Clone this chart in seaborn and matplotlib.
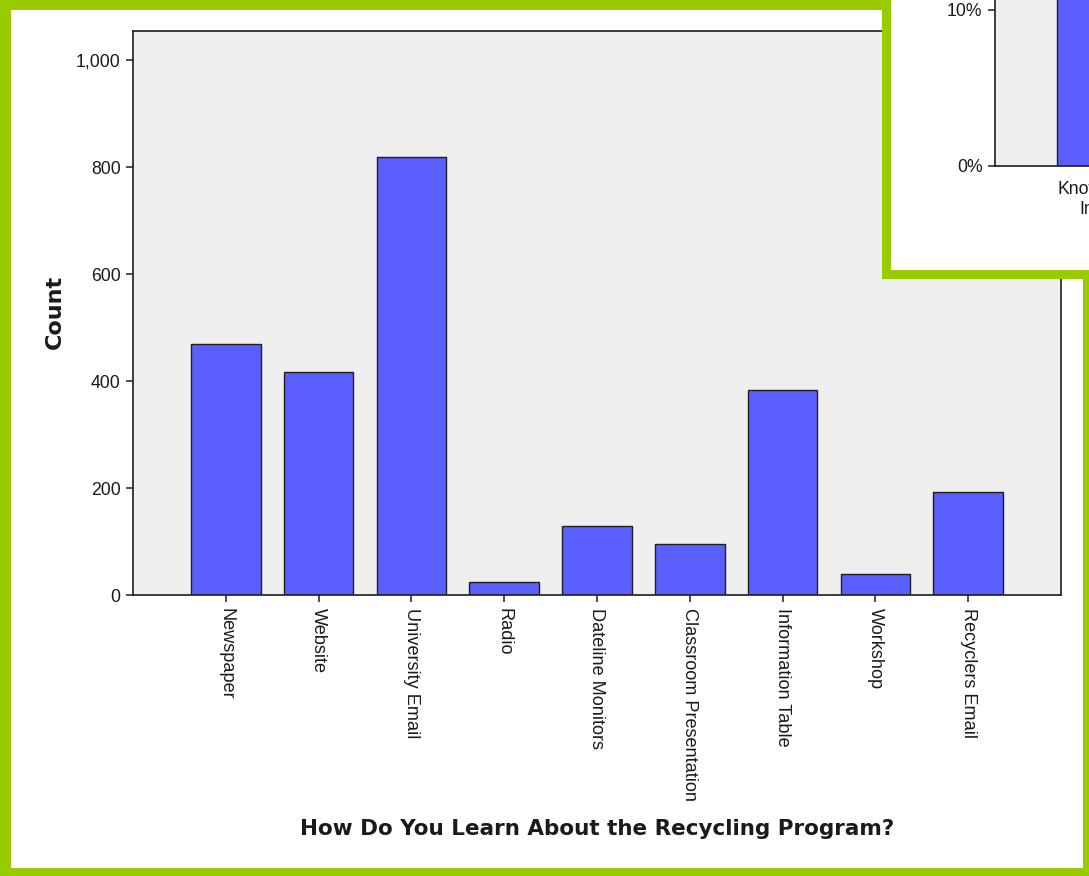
import matplotlib
matplotlib.use("Agg")
import matplotlib.pyplot as plt
import matplotlib.ticker as mticker
from matplotlib.patches import Rectangle
import seaborn as sns
import pandas as pd

# ---- data ----
categories = ["Newspaper", "Website", "University Email", "Radio", "Dateline Monitors",
              "Classroom Presentation", "Information Table", "Workshop", "Recyclers Email"]
counts = [470, 417, 820, 24, 130, 95, 384, 39, 193]
y_ticks = [0, 200, 400, 600, 800, 1000]
x_title = "How Do You Learn About the Recycling Program?"
y_title = "Count"

inset_categories = ["Knowledge\nIndex"]
inset_values = [0.55]
inset_ticks = [0.0, 0.1]

BAR = "#5b5fff"
EDGE = "#1e1e1e"
FACE = "#efefef"
GREEN = "#99cc00"
TXT = "#1a1a1a"

sns.set_style("white")
plt.rcParams['font.family'] = ['Liberation Sans', 'DejaVu Sans']

W, H = 1089, 876
fig = plt.figure(figsize=(W / 100, H / 100), dpi=100)
fig.patch.set_facecolor(GREEN)

def fx(px):
    return px / W

def fy(py):
    return 1 - py / H

# white inner area of the frame
fig.patches.append(Rectangle((fx(11), fy(868)), fx(1083 - 11), (868 - 10) / H,
                             transform=fig.transFigure, facecolor="white",
                             edgecolor="none", zorder=-10))

# ---- main axes ----
L, R, T, B = 133, 1061, 31, 595
ax = fig.add_axes([fx(L), fy(B), fx(R - L), (B - T) / H])
ax.set_zorder(0)
df = pd.DataFrame({"cat": categories, "count": counts})
sns.barplot(data=df, x="cat", y="count", color=BAR, saturation=1, width=0.75,
            edgecolor=EDGE, linewidth=1.0, ax=ax)
ax.set_facecolor(FACE)
ax.set_xlim(-1, len(categories))
ax.set_ylim(0, 1055)
ax.set_yticks(y_ticks)
ax.yaxis.set_major_formatter(mticker.FuncFormatter(lambda v, p: f"{int(v):,}"))
for s in ax.spines.values():
    s.set_visible(True)
    s.set_color(EDGE)
    s.set_linewidth(1.2)
ax.tick_params(axis="both", which="major", direction="out", length=5, width=1.1,
               color=EDGE, labelcolor=TXT, labelsize=12.7, pad=4,
               left=True, bottom=True)
ax.set_xticks(range(len(categories)))
ax.set_xticklabels(categories, rotation=270, ha="center", va="top", fontsize=13.1)
ax.set_xlabel(x_title, fontsize=15.5, fontweight="bold", family="DejaVu Sans",
              color=TXT)
ax.xaxis.set_label_coords(0.5, (B - 829) / (B - T))
ax.xaxis.label.set_va("center")
ax.set_ylabel(y_title, fontsize=16, fontweight="bold", family="DejaVu Sans",
              color=TXT)
ax.yaxis.set_label_coords((55 - L) / (R - L), (B - 312) / (B - T))
ax.yaxis.label.set_va("center")

# ---- overlapping inset chart (top right) ----
fig.patches.append(Rectangle((fx(882), fy(279)), fx(300), 300 / H,
                             transform=fig.transFigure, facecolor=GREEN,
                             edgecolor="none", zorder=1))
fig.patches.append(Rectangle((fx(891), fy(269.5)), fx(300), 300 / H,
                             transform=fig.transFigure, facecolor="white",
                             edgecolor="none", zorder=1.5))
iL, iB, iR, iT = 995, 166, 1313, -70
iax = fig.add_axes([fx(iL), fy(iB), fx(iR - iL), (iB - iT) / H])
iax.set_zorder(2)
idf = pd.DataFrame({"cat": inset_categories, "val": inset_values})
sns.barplot(data=idf, x="cat", y="val", color=BAR, saturation=1, width=0.83,
            edgecolor=EDGE, linewidth=1.0, ax=iax)
iax.set_facecolor(FACE)
iax.set_xlim(-1, 2)
iax.set_ylim(0, (iB - iT) / 1560)
iax.set_yticks(inset_ticks)
iax.yaxis.set_major_formatter(mticker.FuncFormatter(lambda v, p: f"{v * 100:.0f}%"))
for s in iax.spines.values():
    s.set_visible(True)
    s.set_color(EDGE)
    s.set_linewidth(1.2)
iax.tick_params(axis="both", direction="out", length=5, width=1.1, color=EDGE,
                labelcolor=TXT, labelsize=12.7, pad=4, left=True, bottom=True)
iax.tick_params(axis="x", pad=6)
iax.set_xlabel("")
iax.set_ylabel("")

fig.savefig("out.png", dpi=100)
